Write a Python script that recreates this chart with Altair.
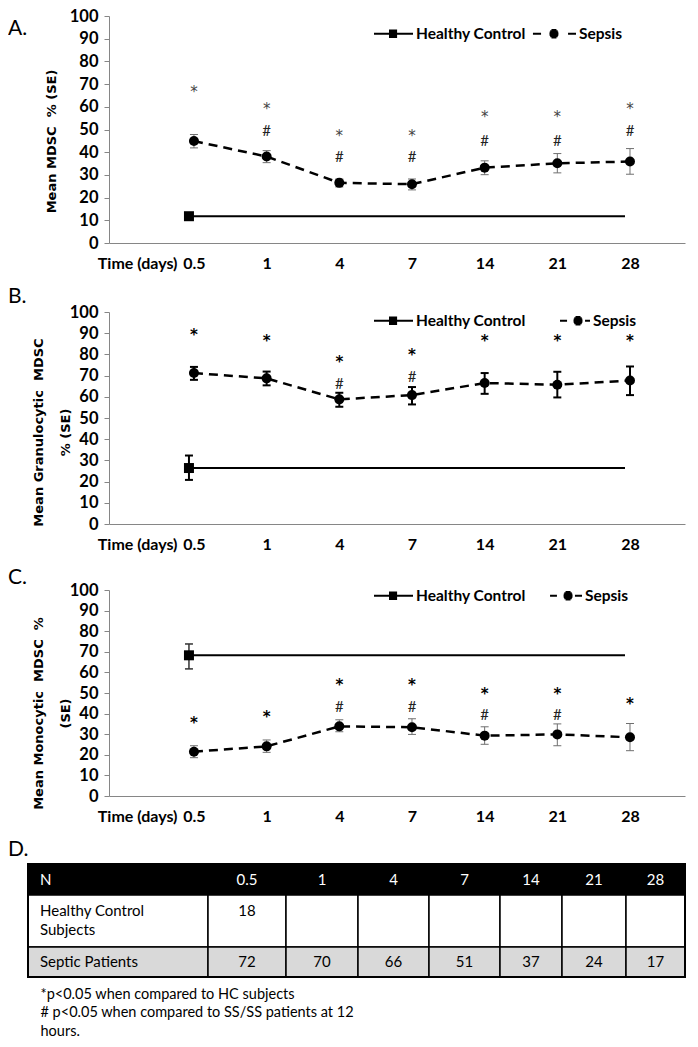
import altair as alt
import pandas as pd

# ---------------- data ----------------
days = ["0.5", "1", "4", "7", "14", "21", "28"]

# Panel A: Mean MDSC % (SE)
a_sep_mean = [44.9, 38.1, 26.5, 25.9, 33.2, 35.1, 35.9]
a_sep_lo = [41.9, 35.4, 24.7, 23.4, 30.1, 30.9, 30.3]
a_sep_hi = [47.8, 40.7, 28.2, 28.2, 36.2, 39.4, 41.6]
a_hc_mean, a_hc_lo, a_hc_hi = 11.8, 10.3, 13.2
a_star = [67.6, 59.9, 48.2, 48.2, 56.2, 56.2, 59.9]
a_hash = [None, 49.3, 37.9, 37.9, 45.0, 45.0, 49.3]

# Panel B: Mean Granulocytic MDSC % (SE)
b_sep_mean = [71.2, 68.7, 58.8, 60.8, 66.5, 65.7, 67.7]
b_sep_lo = [68.0, 65.4, 55.3, 56.4, 61.4, 59.7, 60.8]
b_sep_hi = [74.1, 71.9, 61.9, 64.6, 71.2, 71.8, 74.3]
b_hc_mean, b_hc_lo, b_hc_hi = 26.4, 20.8, 32.3
b_star = [90.1, 87.3, 77.4, 80.7, 87.3, 87.3, 87.3]
b_hash = [None, None, 66.1, 69.4, None, None, None]

# Panel C: Mean Monocytic MDSC % (SE)
c_sep_mean = [21.5, 24.1, 33.8, 33.4, 29.3, 29.9, 28.5]
c_sep_lo = [18.6, 21.2, 31.2, 29.9, 25.1, 24.4, 22.0]
c_sep_hi = [24.4, 27.2, 37.0, 37.5, 33.6, 35.0, 35.2]
c_hc_mean, c_hc_lo, c_hc_hi = 68.3, 61.7, 73.8
c_star = [36.2, 39.4, 54.8, 54.8, 50.6, 50.6, 45.7]
c_hash = [None, None, 43.4, 43.4, 39.1, 39.1, None]

series_names = ["Healthy Control", "Sepsis"]

# Panel D: table
table_header = ["N", "0.5", "1", "4", "7", "14", "21", "28"]
row_labels = ["Healthy Control\nSubjects", "Septic Patients"]
hc_n = ["18", "", "", "", "", "", ""]
septic_n = ["72", "70", "66", "51", "37", "24", "17"]
footnotes = ["*p<0.05 when compared to HC subjects",
             "# p<0.05 when compared to SS/SS patients at 12",
             "hours."]

# ---------------- layout / style ----------------
FONT = "Lato"
YT_FONT = "DejaVu Sans"
STAR_FONT = "DejaVu Sans"
GRAY = "#868686"
PLOT_W = 576
HC_SHIFT = -5
NB = "\u00a0"


def f(v):
    return f"{v:.3f}"


def square_strokes(cx, h=0.27):
    # filled square drawn with overlapping horizontal strokes
    out = ""
    for k in range(-2, 3):
        y = k * h / 2.5
        out += f"M{f(cx - h)},{f(y)}H{f(cx + h)}"
    return out


def disk_strokes(cx, r=0.3):
    out = ""
    for k in range(-3, 4):
        y = k * r / 3.6
        w = (r * r - y * y) ** 0.5
        out += f"M{f(cx - w)},{f(y)}H{f(cx + w)}"
    return out


def hc_path(x0, x1, cx):
    return f"M{f(x0)},0H{f(x1)}" + square_strokes(cx)


def sep_path(x0, d0, d1, x1, cx):
    return f"M{f(x0)},0H{f(d0)}M{f(d1)},0H{f(x1)}" + disk_strokes(cx)


def panel(letter, ytitle, mean, lo, hi, hc, hclo, hchi, star, hashes, height,
          err_color, err_w, hc_err_color, hc_err_w, star_weight, star_color,
          leg_y, col_pad, sep_sym, title_offset, ytitle_x, ytitle_y):
    sep = pd.DataFrame({"day": days, "mean": mean, "lo": lo, "hi": hi,
                        "star": star, "hash": hashes})
    caps = pd.DataFrame({"day": days + days, "v": lo + hi})
    hcdf = pd.DataFrame({"day": [days[0]], "day_end": [days[-1]], "v": [hc],
                         "lo": [hclo], "hi": [hchi]})
    hccaps = pd.DataFrame({"day": [days[0], days[0]], "v": [hclo, hchi]})
    legdf = pd.DataFrame({"series": series_names})

    xscale = alt.Scale(type="point", domain=days, padding=0.963, align=0.607)
    xaxis = alt.Axis(title="Time (days)", titleX=68, titleY=20, titleAlign="right",
                     titleBaseline="middle", titleFont=FONT, titleFontSize=16,
                     titleFontWeight="bold", titleColor="black",
                     labelFont=FONT, labelFontSize=16, labelFontWeight="bold",
                     labelColor="black", labelAngle=0, labelBaseline="middle",
                     labelPadding=20, ticks=False, tickSize=0,
                     domainColor=GRAY, domainWidth=1, grid=False)
    yscale = alt.Scale(domain=[0, 100], nice=False, zero=True)
    yaxis = alt.Axis(title=ytitle, values=list(range(0, 101, 10)),
                     titleFont=YT_FONT, titleFontSize=13, titleFontWeight="bold",
                     titleColor="black", titleX=ytitle_x, titleY=ytitle_y,
                     titleBaseline="middle", titleAlign="center", titleAngle=270,
                     titleLineHeight=27,
                     labelFont=FONT, labelFontSize=16.5, labelFontWeight="bold",
                     labelColor="black", labelPadding=6, tickSize=5,
                     tickColor=GRAY, domainColor=GRAY, domainWidth=1, grid=False)

    X = alt.X("day:O", scale=xscale, axis=xaxis)

    def Y(fld):
        return alt.Y(f"{fld}:Q", scale=yscale, axis=yaxis)

    hc_line = alt.Chart(hcdf).mark_rule(color="black", strokeWidth=2,
                                        xOffset=HC_SHIFT, x2Offset=HC_SHIFT).encode(
        x=X, x2="day_end:O", y=Y("v"))
    sep_line = alt.Chart(sep).mark_line(color="black", strokeWidth=2.5,
                                        strokeDash=[9, 6]).encode(x=X, y=Y("mean"))
    err = alt.Chart(sep).mark_rule(color=err_color, strokeWidth=err_w).encode(
        x=X, y=Y("lo"), y2="hi:Q")
    err_caps = alt.Chart(caps).mark_tick(color=err_color, thickness=err_w, size=8,
                                         opacity=1).encode(x=X, y=Y("v"))
    hc_err = alt.Chart(hcdf).mark_rule(color=hc_err_color, strokeWidth=hc_err_w,
                                       xOffset=HC_SHIFT).encode(x=X, y=Y("lo"), y2="hi:Q")
    hc_caps = alt.Chart(hccaps).mark_tick(color=hc_err_color, thickness=hc_err_w,
                                          size=8, opacity=1,
                                          xOffset=HC_SHIFT).encode(x=X, y=Y("v"))
    sep_pts = alt.Chart(sep).mark_point(shape="circle", filled=True, size=100,
                                        color="black", opacity=1).encode(x=X, y=Y("mean"))
    hc_pt = alt.Chart(hcdf).mark_point(shape="square", filled=True, size=100,
                                       color="black", opacity=1,
                                       xOffset=HC_SHIFT).encode(x=X, y=Y("v"))
    stars = alt.Chart(sep).transform_filter("isValid(datum.star)").mark_text(
        text="*", font=STAR_FONT, fontSize=15, fontWeight=star_weight,
        color=star_color, baseline="middle", dy=2).encode(x=X, y=Y("star"))
    hashm = alt.Chart(sep).transform_filter("isValid(datum.hash)").mark_text(
        text="#", font=FONT, fontSize=15, fontWeight="normal", color="#222222",
        baseline="middle").encode(x=X, y=Y("hash"))
    legend = alt.Chart(legdf).transform_filter("false").mark_point(
        filled=False, color="black", strokeWidth=2, opacity=1).encode(
        shape=alt.Shape("series:N",
                        scale=alt.Scale(domain=series_names,
                                        range=[hc_path(-1.6, 1.0, -0.33), sep_sym]),
                        legend=alt.Legend(title=None, orient="none", legendX=273,
                                          legendY=leg_y, direction="horizontal",
                                          symbolSize=900, symbolStrokeWidth=2,
                                          symbolStrokeColor="black",
                                          symbolOpacity=1, labelFont=FONT,
                                          labelFontSize=15.5, labelFontWeight="bold",
                                          labelColor="black", labelOffset=2,
                                          columnPadding=col_pad, padding=0)))

    return alt.layer(hc_line, sep_line, err, err_caps, hc_err, hc_caps, sep_pts,
                     hc_pt, stars, hashm, legend).properties(
        width=PLOT_W, height=height,
        title=alt.TitleParams(letter, anchor="start", frame="group", dx=-101,
                              offset=title_offset, baseline="alphabetic", font=FONT,
                              fontSize=21, fontWeight="normal", color="black"))


A = panel("A.", f"Mean MDSC{NB} % (SE)", a_sep_mean, a_sep_lo, a_sep_hi,
          a_hc_mean, a_hc_lo, a_hc_hi, a_star, a_hash, 227,
          "#6f6f6f", 1, "#333333", 1.5, "normal", "#444444",
          1.5, 2, sep_path(-1.87, -1.33, 0.47, 1.0, -0.47), -48, -58, 125)
B = panel("B.", [f"Mean Granulocytic{NB} MDSC", "% (SE)"], b_sep_mean, b_sep_lo,
          b_sep_hi, b_hc_mean, b_hc_lo, b_hc_hi, b_star, b_hash, 212,
          "black", 2, "black", 2, "bold", "black",
          -7.5, 30, sep_path(-1.0, -0.53, 0.67, 1.0, 0.2), -20, -71, 120)
C = panel("C.", [f"Mean Monocytic{NB} MDSC{NB} %", "(SE)"], c_sep_mean, c_sep_lo,
          c_sep_hi, c_hc_mean, c_hc_lo, c_hc_hi, c_star, c_hash, 206,
          "#6f6f6f", 1, "#333333", 1.5, "bold", "black",
          -10.5, 20, sep_path(-1.13, -0.67, 0.53, 1.0, 0.07), -25.5, -71, 123)

# ---------------- table ----------------
COL_W = [180, 78, 72, 71, 71, 62, 64, 59]
ROW_H = [31, 52, 30]
edges = [0]
for w in COL_W:
    edges.append(edges[-1] + w)
rows = [0]
for h in ROW_H:
    rows.append(rows[-1] + h)
TW, TH = edges[-1], rows[-1]
LEFT_EXT = 81

header_rect = pd.DataFrame({"x": [0], "x2": [TW], "y": [0], "y2": [ROW_H[0]],
                            "fill": ["black"]})
outline = pd.DataFrame({"x": [0], "x2": [TW], "y": [0], "y2": [TH]})
cells = []
for r, fill in [(1, "white"), (2, "#d9d9d9")]:
    for c in range(len(COL_W)):
        cells.append({"x": edges[c], "x2": edges[c + 1], "y": rows[r],
                      "y2": rows[r + 1], "fill": fill})
cells = pd.DataFrame(cells)

head_txt = pd.DataFrame({
    "t": table_header,
    "x": [12] + [(edges[i] + edges[i + 1]) / 2 for i in range(1, len(COL_W))],
    "y": [ROW_H[0] / 2] * len(table_header),
    "align": ["left"] + ["center"] * (len(table_header) - 1)})
lab_txt = pd.DataFrame({"t": row_labels, "x": [12, 12],
                        "y": [rows[1] + 16, (rows[2] + rows[3]) / 2]})
num_txt = pd.DataFrame({
    "t": hc_n + septic_n,
    "x": [(edges[i] + edges[i + 1]) / 2 for i in range(1, len(COL_W))] * 2,
    "y": [rows[1] + 16] * 7 + [(rows[2] + rows[3]) / 2] * 7})

tx_scale = alt.Scale(domain=[LEFT_EXT, LEFT_EXT + PLOT_W], nice=False, zero=False)
ty_scale = alt.Scale(domain=[0, TH], reverse=True, nice=False, zero=False)
tx_axis = alt.Axis(title=footnotes, labels=False, ticks=False, domain=False,
                   grid=False, titleX=-69, titleY=10, titleAlign="left",
                   titleBaseline="top", titleFont=FONT, titleFontSize=14.5,
                   titleFontWeight="normal", titleColor="black",
                   titleLineHeight=18.5)


def TX(fld):
    return alt.X(f"{fld}:Q", scale=tx_scale, axis=tx_axis)


def TY(fld):
    return alt.Y(f"{fld}:Q", scale=ty_scale, axis=None)


t_head = alt.Chart(header_rect).mark_rect(stroke="black", strokeWidth=1.5).encode(
    x=TX("x"), x2="x2:Q", y=TY("y"), y2="y2:Q", fill=alt.Fill("fill:N", scale=None))
t_cells = alt.Chart(cells).mark_rect(stroke="black", strokeWidth=1.5).encode(
    x=TX("x"), x2="x2:Q", y=TY("y"), y2="y2:Q", fill=alt.Fill("fill:N", scale=None))
t_outline = alt.Chart(outline).mark_rect(stroke="black", strokeWidth=2,
                                         fillOpacity=0).encode(
    x=TX("x"), x2="x2:Q", y=TY("y"), y2="y2:Q")
t_head_n = alt.Chart(head_txt[head_txt["align"] == "left"]).mark_text(
    font=FONT, fontSize=15, color="white", baseline="middle", align="left").encode(
    x=TX("x"), y=TY("y"), text="t:N")
t_head_c = alt.Chart(head_txt[head_txt["align"] == "center"]).mark_text(
    font=FONT, fontSize=15, color="white", baseline="middle", align="center").encode(
    x=TX("x"), y=TY("y"), text="t:N")
t_lab = alt.Chart(lab_txt).mark_text(font=FONT, fontSize=15, color="black",
                                     baseline="middle", align="left", lineBreak="\n",
                                     lineHeight=19).encode(
    x=TX("x"), y=TY("y"), text="t:N")
t_num = alt.Chart(num_txt).mark_text(font=FONT, fontSize=15, color="black",
                                     baseline="middle", align="center").encode(
    x=TX("x"), y=TY("y"), text="t:N")

D = alt.layer(t_head, t_cells, t_outline, t_head_n, t_head_c, t_lab, t_num).properties(
    width=PLOT_W, height=TH,
    title=alt.TitleParams("D.", anchor="start", frame="group", dx=-101, offset=-14,
                          baseline="alphabetic", font=FONT, fontSize=21,
                          fontWeight="normal", color="black"))

chart = alt.vconcat(A, B, C, D, spacing=15).resolve_scale(
    shape="independent").resolve_legend(shape="independent").properties(
    padding=0).configure_view(stroke=None)

chart.save("out.html", embed_options={"renderer": "svg", "actions": False})
